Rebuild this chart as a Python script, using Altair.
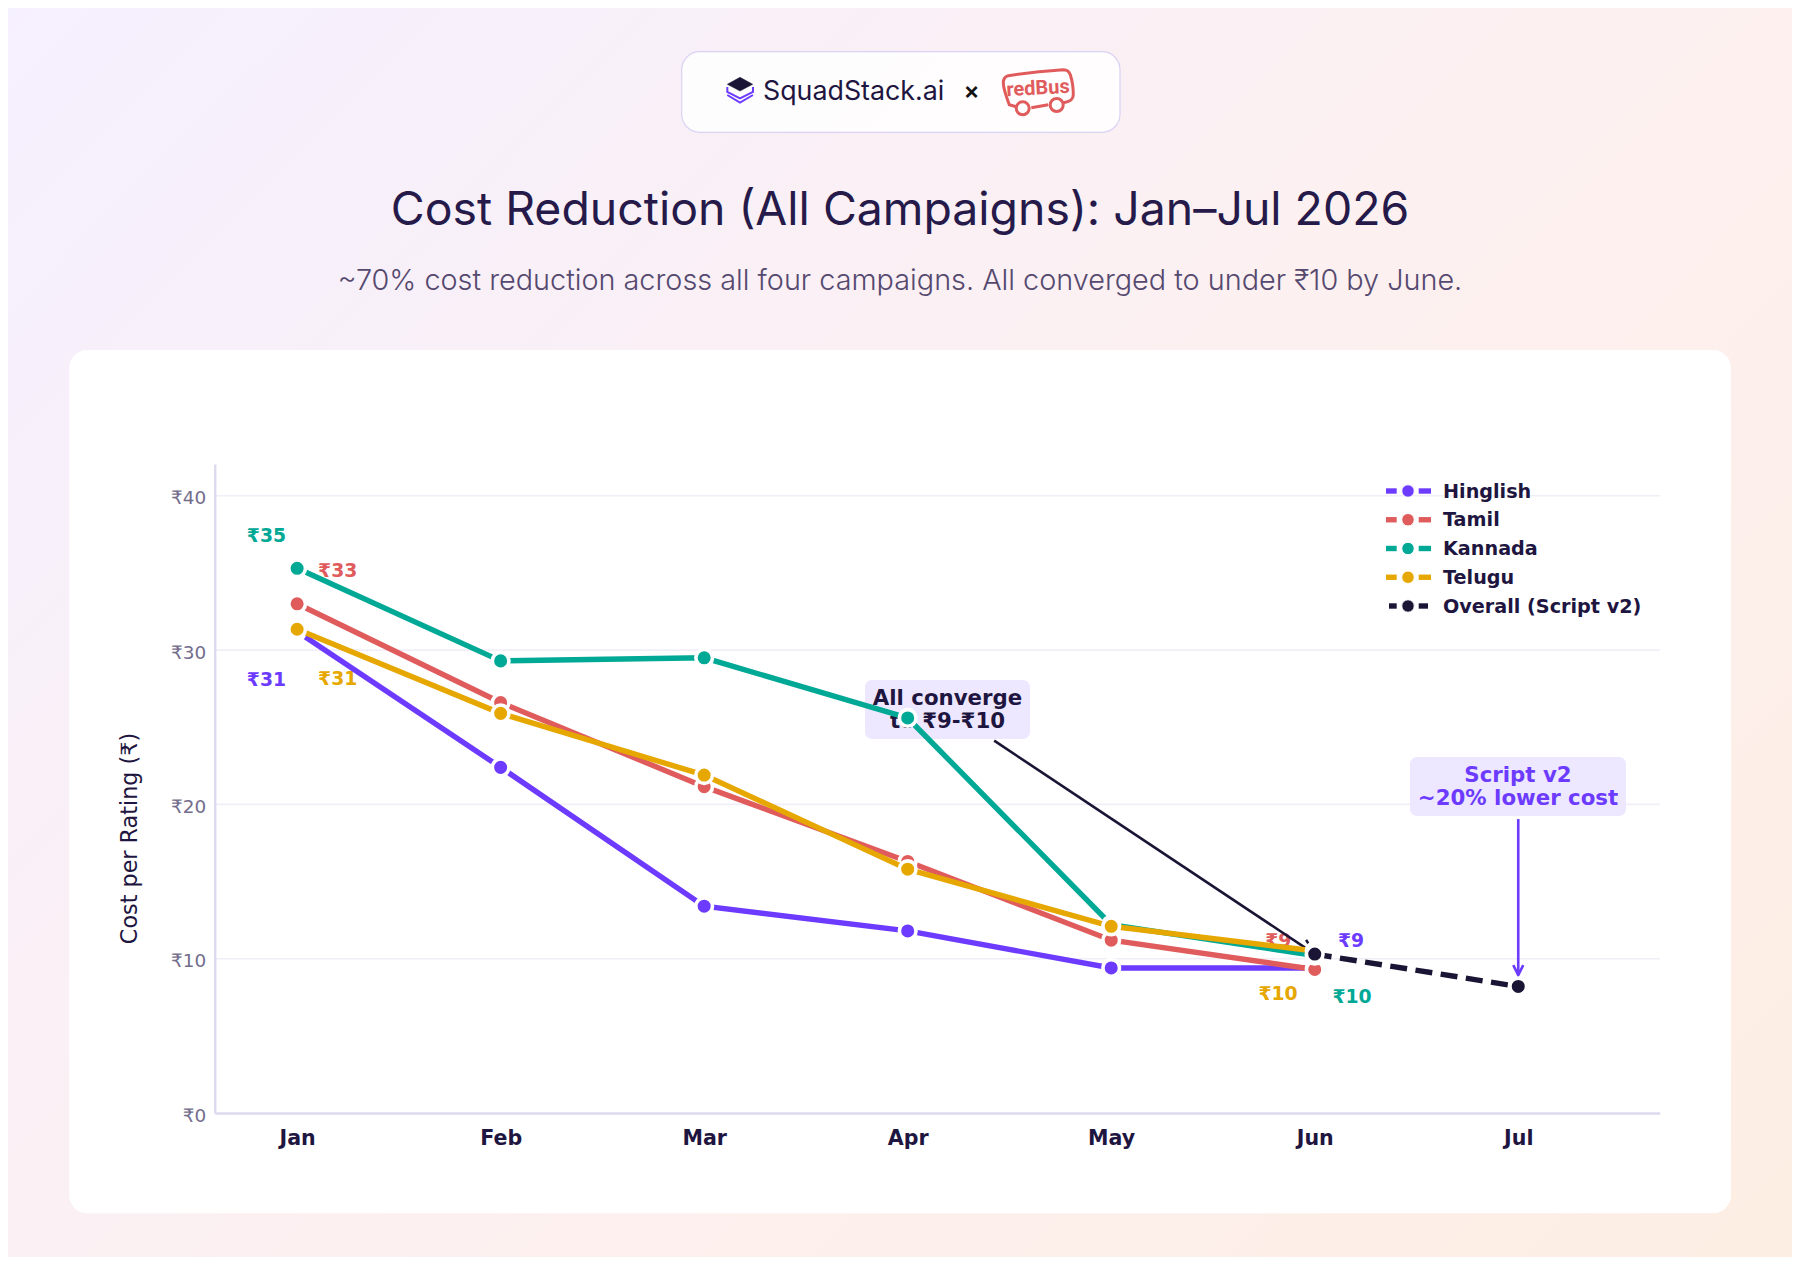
import altair as alt
import pandas as pd

months = ["Jan", "Feb", "Mar", "Apr", "May", "Jun", "Jul"]
hinglish = [31.2, 22.4, 13.4, 11.8, 9.4, 9.4]
tamil = [33.0, 26.6, 21.15, 16.3, 11.2, 9.3]
kannada = [35.3, 29.3, 29.5, 25.6, 12.2, 10.2]
telugu = [31.35, 25.9, 21.9, 15.8, 12.1, 10.5]
overall_idx = [5, 6]
overall = [10.3, 8.2]
y_ticks = [0, 10, 20, 30, 40]
series_names = ["Hinglish", "Tamil", "Kannada", "Telugu", "Overall (Script v2)"]
series_colors = ["#6C3BFF", "#E05C5C", "#00A896", "#E6A700", "#1A1535"]
value_labels = [
    ("₹31", 0, 31.2, "#6C3BFF", -30.7, 48.7),
    ("₹33", 0, 33.0, "#E05C5C", 40.6, -32.8),
    ("₹35", 0, 35.3, "#00A896", -30.7, -32.3),
    ("₹31", 0, 31.35, "#E6A700", 40.6, 49.4),
    ("₹9", 5, 9.4, "#6C3BFF", 36.3, -27),
    ("₹9", 5, 9.3, "#E05C5C", -36.4, -28.5),
    ("₹10", 5, 10.2, "#00A896", 37.3, 41.4),
    ("₹10", 5, 10.5, "#E6A700", -36.7, 42.7),
]

DARK = "#1E1640"
PURPLE = "#6C3BFF"
RED = "#E05C5C"
LEFT, TOP, W, H = 214.7, 464.0, 1445, 649
one = pd.DataFrame({"a": [0]})
X_MIN, X_MAX = -0.405, 6.695


def px(v):
    return v - LEFT


def py(v):
    return v - TOP


def box(x0, x1, y0, y1, **kw):
    return alt.Chart(one).mark_rect(**kw).encode(
        x=alt.value(px(x0)), x2=alt.value(px(x1)), y=alt.value(py(y0)), y2=alt.value(py(y1)))


def label(txt, x, y, **kw):
    return alt.Chart(one).mark_text(text=txt, **kw).encode(x=alt.value(px(x)), y=alt.value(py(y)))


def shape(path, x, y, **kw):
    # size 4 makes one path unit one pixel
    return alt.Chart(one).mark_point(shape=path, size=4, opacity=1, **kw).encode(x=alt.value(px(x)), y=alt.value(py(y)))


x_scale = alt.Scale(domain=[X_MIN, X_MAX], nice=False, zero=False)
y_scale = alt.Scale(domain=[0, 42.06], nice=False, zero=False)
month_expr = "[" + ",".join(f"'{m}'" for m in months) + "][datum.value]"
x_axis = alt.Axis(values=list(range(7)), labelExpr=month_expr, title=None, grid=False, ticks=False,
                  domainColor="#DDD9EE", domainWidth=2.4, labelFont="DejaVu Sans", labelFontSize=20.6,
                  labelFontWeight="bold", labelColor=DARK, labelPadding=15, zindex=1, labelFlush=False,
                  labelOverlap=False)
y_axis = alt.Axis(values=y_ticks, labelExpr="'₹' + datum.value", title="Cost per Rating (₹)", grid=False,
                  ticks=False, domainColor="#DDD9EE", domainWidth=2.4, labelFont="DejaVu Sans",
                  labelFontSize=18.4, labelColor="#736D8C", labelPadding=9, labelOffset=2, zindex=1,
                  titleFont="DejaVu Sans", titleFontSize=22.3, titleFontWeight="normal", titleColor=DARK,
                  titleX=-85.7, titleY=374, titleAngle=270, titleBaseline="middle", titleAlign="center",
                  labelOverlap=False)


def X():
    return alt.X("x:Q", scale=x_scale, axis=x_axis)


def Y():
    return alt.Y("y:Q", scale=y_scale, axis=y_axis)


layers = []

# page background and cards
layers.append(box(0, 1800, 0, 1265, fill=alt.LinearGradient(
    gradient="linear", x1=0, y1=0, x2=1.139, y2=0.801,
    stops=[alt.GradientStop(offset=0, color="#F5F0FF"), alt.GradientStop(offset=0.5, color="#FCF0F1"),
           alt.GradientStop(offset=1, color="#FDEEE3")])))
layers.append(box(69.3, 1731, 350, 1213.3, fill="#FFFFFF", cornerRadius=18))
layers.append(box(681.7, 1120, 51.7, 132.3, fill="#FFFFFF", fillOpacity=0.85, stroke="#D9D2F3", strokeWidth=1.2,
                  cornerRadius=18))

# logo
layers.append(shape("M0,-12.7L12.7,-5.7L0,1L-12.7,-5.7Z", 740, 90, filled=True, fill="#1A1535", stroke="#1A1535",
                    strokeWidth=0.5))
layers.append(shape("M-12.7,-3V2L0,8.5L13,2V-3", 740, 90, filled=False, stroke=PURPLE, strokeWidth=2))
layers.append(shape("M-12.7,5L0,12.5L13,5", 740, 90, filled=False, stroke=PURPLE, strokeWidth=2))
layers.append(label("SquadStack.ai", 763, 100, font="Inter", fontSize=26.8, fontWeight=400, color=DARK, align="left",
                    baseline="alphabetic"))
layers.append(label("×", 971.7, 92, font="Inter", fontSize=24, fontWeight=600, color="#111111", align="center",
                    baseline="middle"))
bus = ("M-22,15L-29,13C-32,5 -35,-4 -35,-9C-35,-13 -33,-15 -30,-16C-12,-19 8,-21 25,-22C29,-22 31,-20 32,-17"
       "C34,-11 35,-3 35,3C35,8 32,10 25,11M-7,16L10,13")
layers.append(shape(bus, 1038.3, 91.7, filled=False, stroke=RED, strokeWidth=3))
layers.append(label("redBus", 1038, 88.5, font="Roboto", fontSize=20, fontWeight=700, color=RED, align="center",
                    baseline="middle", angle=357))
for wx, wy in [(1022.7, 108.3), (1056.7, 105)]:
    layers.append(shape("M-6.5,0A6.5,6.5 0 1,0 6.5,0A6.5,6.5 0 1,0 -6.5,0Z", wx, wy, filled=True, fill="#FFFFFF",
                        stroke=RED, strokeWidth=3))

# headings
layers.append(label("Cost Reduction (All Campaigns): Jan–Jul 2026", 900, 210.5, font="Inter", fontSize=46.4,
                    fontWeight=400, color="#251A4A", align="center", baseline="middle"))
layers.append(label("~70% cost reduction across all four campaigns. All converged to under ₹10 by June.", 900, 281,
                    font="Inter", fontSize=28.8, fontWeight=300, color="#55496F", align="center", baseline="middle"))

# grid
grid_df = pd.DataFrame({"y": y_ticks[1:], "x": X_MIN, "x2": X_MAX})
layers.append(alt.Chart(grid_df).mark_rule(color="#F1EEF8", strokeWidth=1.6).encode(x=X(), x2="x2:Q", y=Y()))

# value labels
for txt, xi, yv, col, dx, dy in value_labels:
    layers.append(alt.Chart(pd.DataFrame({"x": [xi], "y": [yv]})).mark_text(
        text=txt, font="DejaVu Sans", fontSize=18.8, fontWeight="bold", color=col, dx=dx, dy=dy,
        align="center", baseline="middle").encode(x=X(), y=Y()))

# annotations
layers.append(box(865, 1030, 680, 739, fill="#EDE8FF", cornerRadius=7))
layers.append(label(["All converge", "to ₹9-₹10"], 947.5, 699, font="DejaVu Sans", fontSize=21.3, fontWeight="bold",
                    color=DARK, align="center", baseline="middle", lineHeight=22.5))
layers.append(box(1410, 1626, 757, 816, fill="#EDE8FF", cornerRadius=7))
layers.append(label(["Script v2", "~20% lower cost"], 1518, 775.5, font="DejaVu Sans", fontSize=21.3, fontWeight="bold",
                    color=PURPLE, align="center", baseline="middle", lineHeight=23))

# annotation arrows
layers.append(alt.Chart(pd.DataFrame({"x": [3.425, 5], "y": [24.13, 10.3]})).mark_line(
    color="#1A1535", strokeWidth=2.6).encode(x=X(), y=Y()))
layers.append(alt.Chart(pd.DataFrame({"x": [5], "y": [10.3]})).mark_point(
    shape="M-15,-7L0,0L-15,7", size=4, filled=False, stroke="#1A1535", strokeWidth=2.6, angle=33.6,
    opacity=1).encode(x=X(), y=Y()))
layers.append(alt.Chart(pd.DataFrame({"x": [6, 6], "y": [19.05, 8.94]})).mark_line(
    color=PURPLE, strokeWidth=2.6).encode(x=X(), y=Y()))
layers.append(alt.Chart(pd.DataFrame({"x": [6], "y": [8.94]})).mark_point(
    shape="M-10,-5L0,0L-10,5", size=4, filled=False, stroke=PURPLE, strokeWidth=2.6, angle=90,
    opacity=1).encode(x=X(), y=Y()))

# series
for vals, col in zip([hinglish, tamil, kannada, telugu], series_colors):
    df = pd.DataFrame({"x": list(range(len(vals))), "y": vals})
    base = alt.Chart(df)
    layers.append(base.mark_line(color=col, strokeWidth=5.4).encode(x=X(), y=Y()))
    layers.append(base.mark_point(filled=True, fill=col, stroke="#FFFFFF", strokeWidth=3.6, size=277, opacity=1).encode(
        x=X(), y=Y()))
ov = alt.Chart(pd.DataFrame({"x": overall_idx, "y": overall}))
layers.append(ov.mark_line(color=series_colors[4], strokeWidth=5.4, strokeDash=[17, 8.5]).encode(x=X(), y=Y()))
layers.append(ov.mark_point(filled=True, fill=series_colors[4], stroke="#FFFFFF", strokeWidth=3.6, size=277,
                            opacity=1).encode(x=X(), y=Y()))

# legend
for i, (name, col) in enumerate(zip(series_names, series_colors)):
    yy = 491 + i * 28.75
    inset = 3 if i == 4 else 0
    layers.append(alt.Chart(one).mark_rule(color=col, strokeWidth=5.4).encode(
        x=alt.value(px(1386 + inset)), x2=alt.value(px(1396.7)), y=alt.value(py(yy))))
    layers.append(alt.Chart(one).mark_rule(color=col, strokeWidth=5.4).encode(
        x=alt.value(px(1418.7)), x2=alt.value(px(1431 - inset)), y=alt.value(py(yy))))
    layers.append(alt.Chart(one).mark_point(filled=True, fill=col, stroke="#FFFFFF", strokeWidth=1, size=156,
                                            opacity=1).encode(x=alt.value(px(1408)), y=alt.value(py(yy))))
    layers.append(label(name, 1443, yy + 0.6, font="DejaVu Sans", fontSize=19.2, fontWeight="bold", color=DARK,
                        align="left", baseline="middle"))

chart = alt.layer(*layers).properties(
    width=W, height=H, autosize=alt.AutoSizeParams(type="none"),
    padding={"left": LEFT - 8, "top": TOP - 8, "right": 1792 - LEFT - W, "bottom": 1257 - TOP - H},
).configure_view(stroke=None)

chart.save("out.html", embed_options={"renderer": "svg", "actions": False})
